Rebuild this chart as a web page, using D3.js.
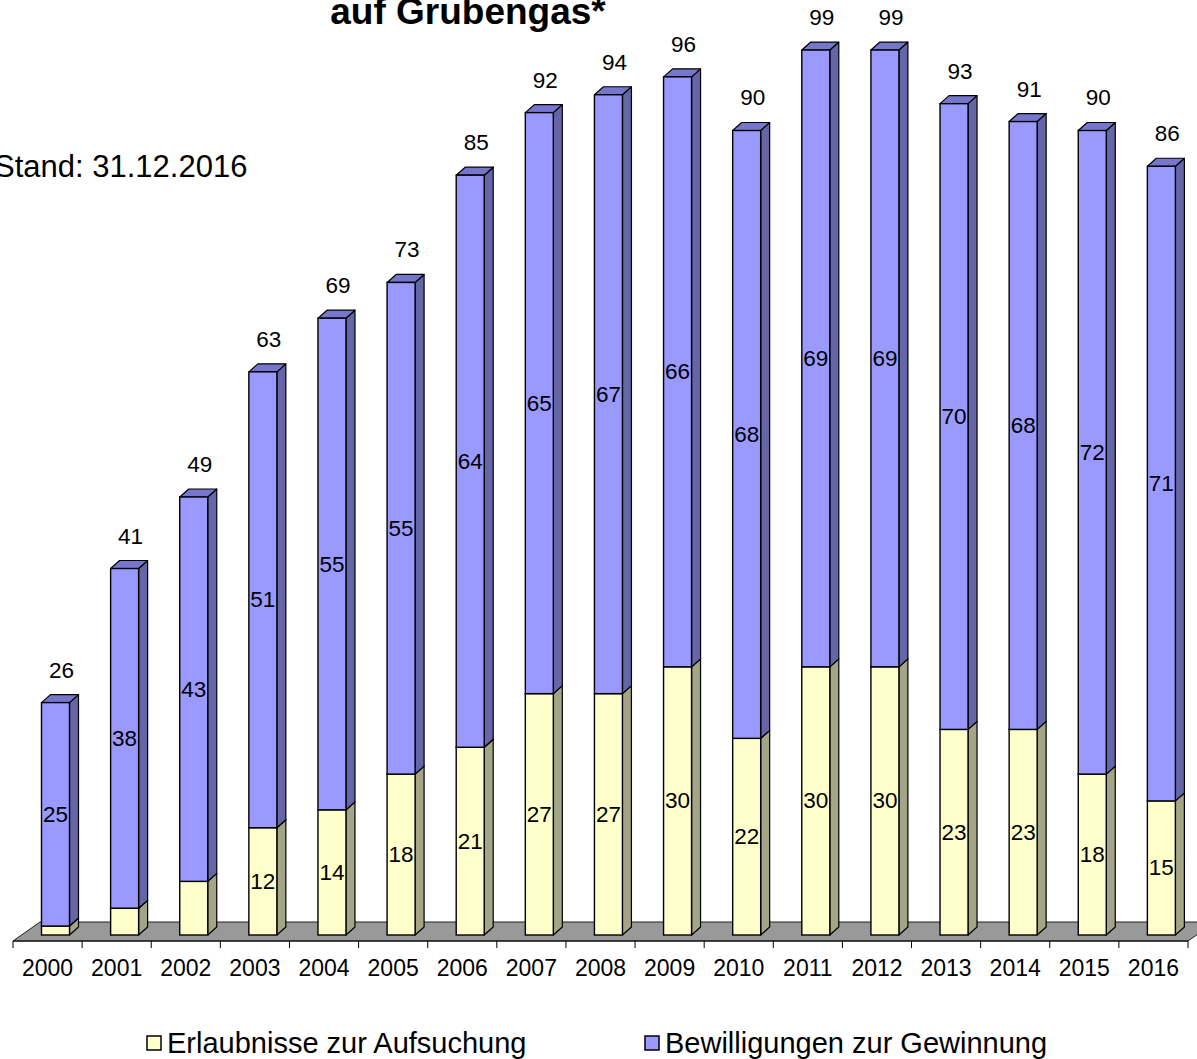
<!DOCTYPE html>
<head>
    <meta charset="utf-8">
    <style>
    body{
        margin: 0;
        background-color: white;
     }
     svg {
        background-color: white;
        font-family: 'Liberation Sans', Arial, sans-serif;
     }
     .num { font-size: 22.5px; fill: #000; }
     .year { font-size: 23px; fill: #000; }
     .title { font-size: 37px; font-weight: bold; }
     .stand { font-size: 31px; }
     .legend { font-size: 29px; }
    </style>
</head>

<body>
  <script src="https://d3js.org/d3.v7.min.js"></script>
  <script type="text/javascript">

   // DATA
   var years = ['2000','2001','2002','2003','2004','2005','2006','2007','2008',
                '2009','2010','2011','2012','2013','2014','2015','2016'];
   var erlaubnisse   = [1, 3, 6, 12, 14, 18, 21, 27, 27, 30, 22, 30, 30, 23, 23, 18, 15];
   var bewilligungen = [25, 38, 43, 51, 55, 55, 64, 65, 67, 66, 68, 69, 69, 70, 68, 72, 71];
   var totals        = [26, 41, 49, 63, 69, 73, 85, 92, 94, 96, 90, 99, 99, 93, 91, 90, 86];
   var seriesNames = ['Erlaubnisse zur Aufsuchung', 'Bewilligungen zur Gewinnung'];

   // DIMENSIONS
   var width = 1197, height = 1059;
   var depthX = 9, depthY = -8;      // bar depth
   var floorX = 27, floorY = -19;    // floor depth
   var barW = 28, barOff = 28.5;

   var colors = {
     low:  {front: '#FFFFCC', side: '#A4A486', top: '#CCCCA3'},
     high: {front: '#9999FF', side: '#6466A8', top: '#7676CC'}
   };

   var svg = d3.select('body')
      .append('svg')
      .attr('width', width)
      .attr('height', height);

   // SCALES
   var x = d3.scaleBand().domain(years).range([13, 1188]);
   var y = d3.scaleLinear().domain([0, 100]).range([935, 41.1]);
   var floorFront = 941;

   // FLOOR
   var x0 = x.range()[0], x1 = x.range()[1];
   svg.append('polygon')
      .attr('points', [[x0, floorFront], [x1, floorFront], [x1 + floorX, floorFront + floorY], [x0 + floorX, floorFront + floorY]].join(' '))
      .attr('fill', '#999999')
      .attr('stroke', '#222')
      .attr('stroke-width', 1);

   // AXIS
   svg.append('line')
      .attr('x1', x0).attr('x2', x1)
      .attr('y1', floorFront).attr('y2', floorFront)
      .attr('stroke', '#000').attr('stroke-width', 1);

   svg.selectAll('.tick')
      .data(years.map(d => x(d)).concat([x1]))
      .enter().append('line')
      .attr('x1', d => d).attr('x2', d => d)
      .attr('y1', floorFront).attr('y2', floorFront + 7)
      .attr('stroke', '#000').attr('stroke-width', 1);

   svg.selectAll('.year')
      .data(years)
      .enter().append('text')
      .attr('class', 'year')
      .attr('x', d => x(d) + x.bandwidth() / 2)
      .attr('y', 976)
      .attr('text-anchor', 'middle')
      .text(d => d);

   // BARS
   function box(g, left, v0, v1, c) {
     var yb = y(v0), yt = y(v1), right = left + barW;
     g.append('polygon')
       .attr('points', [[right, yb], [right + depthX, yb + depthY], [right + depthX, yt + depthY], [right, yt]].join(' '))
       .attr('fill', c.side).attr('stroke', '#000').attr('stroke-width', 1.2).attr('stroke-linejoin', 'round');
     g.append('polygon')
       .attr('points', [[left, yt], [left + depthX, yt + depthY], [right + depthX, yt + depthY], [right, yt]].join(' '))
       .attr('fill', c.top).attr('stroke', '#000').attr('stroke-width', 1.2).attr('stroke-linejoin', 'round');
     g.append('rect')
       .attr('x', left).attr('y', yt)
       .attr('width', barW).attr('height', yb - yt)
       .attr('fill', c.front).attr('stroke', '#000').attr('stroke-width', 1.4);
   }

   years.forEach(function(yr, i) {
     var g = svg.append('g');
     var left = x(yr) + barOff;
     box(g, left, 0, erlaubnisse[i], colors.low);
     box(g, left, erlaubnisse[i], totals[i], colors.high);
   });

   // SEGMENT LABELS
   years.forEach(function(yr, i) {
     var cx = x(yr) + barOff + barW / 2;
     if (erlaubnisse[i] >= 10) {
       svg.append('text').attr('class', 'num')
         .attr('x', cx).attr('y', y(erlaubnisse[i] / 2))
         .attr('text-anchor', 'middle').attr('dominant-baseline', 'central')
         .text(erlaubnisse[i]);
     }
     svg.append('text').attr('class', 'num')
       .attr('x', cx).attr('y', y(erlaubnisse[i] + bewilligungen[i] / 2))
       .attr('text-anchor', 'middle').attr('dominant-baseline', 'central')
       .text(bewilligungen[i]);
     // total
     svg.append('text').attr('class', 'num')
       .attr('x', cx + 6).attr('y', y(totals[i]) - 25)
       .attr('text-anchor', 'middle')
       .text(totals[i]);
   });

   // TITLE
   svg.append('text')
      .attr('class', 'title')
      .attr('x', 468).attr('y', 24)
      .attr('text-anchor', 'middle')
      .text('auf Grubengas*');

   svg.append('text')
      .attr('class', 'stand')
      .attr('x', -6).attr('y', 177)
      .text('Stand: 31.12.2016');

   // LEGEND
   var legendX = [147, 645];
   [colors.low, colors.high].forEach(function(c, i) {
     svg.append('rect')
       .attr('x', legendX[i]).attr('y', 1036)
       .attr('width', 14).attr('height', 14)
       .attr('fill', c.front).attr('stroke', '#000').attr('stroke-width', 1.5);
     svg.append('text')
       .attr('class', 'legend')
       .attr('x', legendX[i] + 20).attr('y', 1053)
       .text(seriesNames[i]);
   });

  </script>
</body>
